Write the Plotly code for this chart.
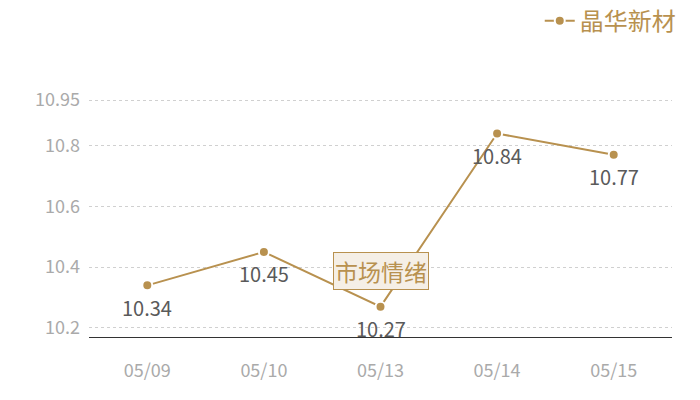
import plotly.graph_objects as go

# data
dates = ["05/09", "05/10", "05/13", "05/14", "05/15"]
prices = [10.34, 10.45, 10.27, 10.84, 10.77]
ytick_vals = [10.2, 10.4, 10.6, 10.8, 10.95]
series_name = "晶华新材"
note_text = "市场情绪"

gold = "#b8914f"
font_family = "Noto Sans CJK SC, Noto Sans, sans-serif"

fig = go.Figure()
fig.add_trace(go.Scatter(
    x=dates, y=prices, name=series_name,
    mode="lines+markers",
    line=dict(color=gold, width=2),
    marker=dict(color=gold, size=10, line=dict(color="white", width=2)),
    cliponaxis=False,
))

# value labels sit a little under each point
for d, p in zip(dates, prices):
    fig.add_annotation(x=d, y=p, xref="x", yref="y", text=f"{p:.2f}",
                       showarrow=False, yshift=-22,
                       font=dict(color="#5a5a5a", size=20, family=font_family))

fig.add_annotation(
    x=dates[2], y=10.386, xref="x", yref="y",
    text=note_text, showarrow=False,
    font=dict(color=gold, size=23, family=font_family),
    bgcolor="#f5efe6", bordercolor=gold, borderwidth=1, borderpad=1,
)

# the page puts the figure 8px in from the top-left corner, margins allow for it
fig.update_layout(
    width=700, height=400,
    margin=dict(l=81, r=36, t=90, b=71, autoexpand=False),
    paper_bgcolor="white", plot_bgcolor="white",
    font=dict(family=font_family),
    showlegend=True,
    legend=dict(x=1.015, xanchor="right", y=1.322, yanchor="middle",
                font=dict(color=gold, size=24, family=font_family),
                bgcolor="rgba(0,0,0,0)"),
    xaxis=dict(type="category", range=[-0.5, 4.5], showgrid=False,
               showline=True, linecolor="#333333", linewidth=1,
               ticks="", tickfont=dict(color="#aaaaaa", size=18),
               ticklabelstandoff=17),
    yaxis=dict(range=[10.17, 10.957], tickvals=ytick_vals,
               ticktext=[str(v) for v in ytick_vals],
               showgrid=True, gridcolor="#d0d0d0", griddash="dot", gridwidth=1,
               zeroline=False, showline=False, ticks="",
               tickfont=dict(color="#aaaaaa", size=18), ticklabelstandoff=8),
)

fig.write_html("out.html")
